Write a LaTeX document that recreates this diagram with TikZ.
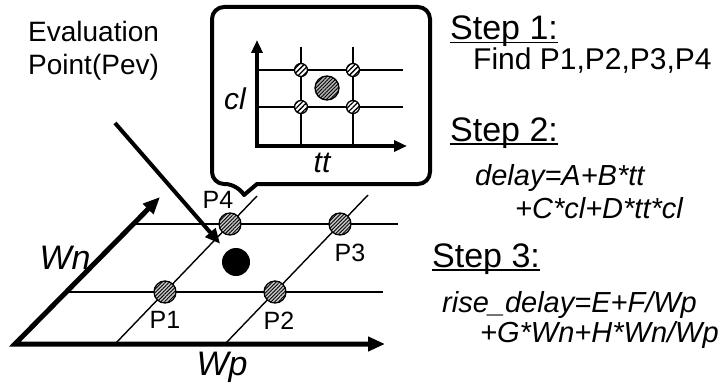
\documentclass[tikz,border=0pt]{standalone}
\usepackage{fontspec}
\setmainfont{Liberation Sans}
\usetikzlibrary{arrows.meta,patterns.meta,positioning}

\newsavebox{\stepbox}
\newcommand{\steptitle}[1]{\sbox{\stepbox}{#1}\rlap{\rule[-3.5pt]{\wd\stepbox}{1.8pt}}\usebox{\stepbox}}

\tikzset{
  every node/.style={inner sep=0pt},
  bigaxis/.style={line width=5pt, line join=miter,
    {Triangle[length=17pt,width=14pt]}-{Triangle[length=17pt,width=14pt]}},
  smallaxis/.style={line width=4pt,
    {Triangle[length=13pt,width=11pt]}-{Triangle[length=13pt,width=11pt]}},
  gridline/.style={line width=1.4pt},
  wpt/.style={circle, draw, line width=1.3pt, minimum size=22pt,
    preaction={fill=gray!45}, pattern={Lines[angle=45,distance=2.6pt,line width=0.9pt]}},
  spt/.style={circle, draw, line width=1.3pt, minimum size=13pt,
    preaction={fill=white}, pattern={Lines[angle=45,distance=3.6pt,line width=1.3pt]}},
  spev/.style={circle, draw, line width=1.3pt, minimum size=24pt,
    preaction={fill=gray!60}, pattern={Lines[angle=45,distance=2.6pt,line width=0.9pt]}},
  pev/.style={circle, fill=black, minimum size=28pt},
  evarrow/.style={line width=4pt, -{Triangle[length=15pt,width=13pt]}, shorten >=10pt},
  callout/.style={line width=4pt, line join=round},
  plabel/.style={font=\fontsize{25}{25}\selectfont},
  axlabel/.style={font=\fontsize{34}{34}\selectfont\itshape},
  inlabel/.style={font=\fontsize{30}{30}\selectfont\itshape},
  evtext/.style={font=\fontsize{28}{33}\selectfont, align=left},
  steptxt/.style={anchor=base west, font=\fontsize{34}{34}\selectfont},
  findtxt/.style={anchor=base west, font=\fontsize{30}{30}\selectfont},
  eqtxt/.style={anchor=base west, font=\fontsize{29}{29}\selectfont\itshape}
}

\begin{document}
\begin{tikzpicture}[x=1pt,y=1pt]
  \useasboundingbox (0,0) rectangle (727,389);
  % Wn / Wp plane
  \coordinate (o) at (15,45);
  \coordinate (wntip) at (160,192);
  \coordinate (wptip) at (385,45);
  \draw[gridline] (133,165) -- (398,165);
  \draw[gridline] (66,97) -- (383,97);
  \draw[gridline] (115,45) -- (257,193);
  \draw[gridline] (225,45) -- (368,194);
  \draw[bigaxis] (wntip) -- (o) -- (wptip);
  \node[axlabel] (wn) at (65,131) {Wn};
  \node[axlabel] (wp) at (222,22) {Wp};

  \node[wpt] (p1) at (165,97) {};
  \node[wpt] (p2) at (275,97) {};
  \node[wpt] (p3) at (340,165) {};
  \node[wpt] (p4) at (230,165) {};
  \node[pev] (pev) at (236,127) {};
  \node[plabel, below=8pt of p1] (l1) {P1};
  \node[plabel, below=8pt of p2, xshift=4pt] (l2) {P2};
  \node[plabel, below=8pt of p3, xshift=10pt] (l3) {P3};
  \node[plabel, above=4pt of p4, xshift=-12pt] (l4) {P4};

  % evaluation point
  \node[evtext, anchor=base west] (ev) at (28,314) {Evaluation\\Point(Pev)};
  \coordinate (evtail) at (115,266);
  \draw[evarrow] (evtail) -- (pev);

  % callout with tt-cl table
  \draw[callout, rounded corners=12pt] (300,205) -- (430,205) -- (430,382)
    -- (212,382) -- (212,205) -- (237,205) [sharp corners] -- (244,194) -- (257,205) -- cycle;
  \coordinate (io) at (257,243);
  \draw[gridline] (257,319) -- (403,319);
  \draw[gridline] (257,282) -- (403,282);
  \draw[gridline] (301,342) -- (301,243);
  \draw[gridline] (353,342) -- (353,243);
  \draw[smallaxis] (257,349) -- (io) -- (407,243);
  \node[spt] (q1) at (301,282) {};
  \node[spt] (q2) at (353,282) {};
  \node[spt] (q3) at (353,319) {};
  \node[spt] (q4) at (301,319) {};
  \node[spev] (qev) at (327,301) {};
  \node[inlabel] (cl) at (235,290) {cl};
  \node[inlabel] (tt) at (322,226) {tt};

  % steps
  \node[steptxt] (s1) at (450,349) {\steptitle{Step 1:}};
  \node[findtxt] (f1) at (473,319) {Find P1,P2,P3,P4};
  \node[steptxt] (s2) at (450,248) {\steptitle{Step 2:}};
  \node[eqtxt] (e1) at (475,204) {delay=A+B*tt};
  \node[eqtxt] (e2) at (515,171) {+C*cl+D*tt*cl};
  \node[steptxt] (s3) at (432,122) {\steptitle{Step 3:}};
  \node[eqtxt] (e3) at (442,77) {rise\_delay=E+F/Wp};
  \node[eqtxt] (e4) at (480,47) {+G*Wn+H*Wn/Wp};
\end{tikzpicture}
\end{document}
